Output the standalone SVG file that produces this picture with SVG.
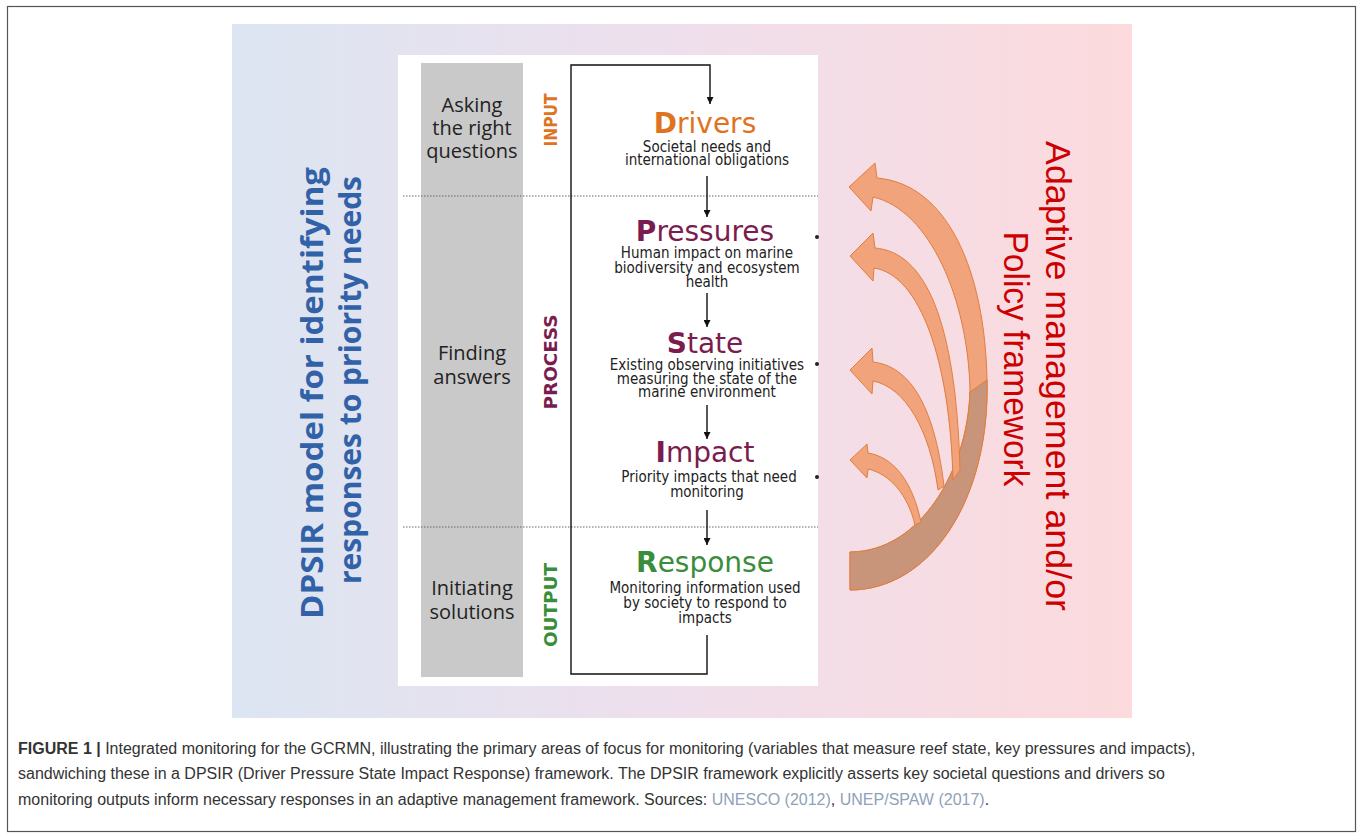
<svg xmlns="http://www.w3.org/2000/svg" width="1360" height="837" viewBox="0 0 1360 837">
  <defs>
    <linearGradient id="bgGrad" x1="0" y1="0" x2="1" y2="0">
      <stop offset="0" stop-color="#dce5f2"/>
      <stop offset="0.5" stop-color="#efdfec"/>
      <stop offset="1" stop-color="#fcdadd"/>
    </linearGradient>
    <marker id="tri" viewBox="0 0 10 10" refX="10" refY="5" markerWidth="7" markerHeight="7" markerUnits="userSpaceOnUse" orient="auto">
      <path d="M0,0 L10,5 L0,10 Z" fill="#111"/>
    </marker>
    <style>
      .side { font-family: "Open Sans", "Noto Sans", sans-serif; font-size: 20px; fill: #222; text-anchor: middle; }
      .phase { font-family: "DejaVu Sans", sans-serif; font-weight: bold; font-size: 17px; text-anchor: middle; }
      .title { font-family: "DejaVu Sans", sans-serif; font-size: 28px; text-anchor: middle; }
      .title .init { font-weight: bold; }
      .desc { font-family: "DejaVu Sans Condensed", "DejaVu Sans", sans-serif; font-stretch: condensed; font-size: 15px; fill: #222; text-anchor: middle; }
      .flow { stroke: #111; stroke-width: 1.4; fill: none; }
      .divider { stroke: #666; stroke-width: 1; stroke-dasharray: 1.5 1.5; }
      .fb { fill: #f1a37b; stroke: #e27d3d; stroke-width: 1; }
      .fbBase { fill: #c9957a; stroke: #e27d3d; stroke-width: 1; }
      .caption { font-family: "Liberation Sans", Arial, sans-serif; font-size: 16px; fill: #333; }
      .cite { fill: #8ea2b8; }
    </style>
  </defs>

  <!-- page frame -->
  <rect x="7.5" y="6.5" width="1348" height="825" fill="#ffffff" stroke="#555" stroke-width="1.2"/>

  <!-- gradient backdrop -->
  <rect x="232" y="24" width="900" height="694" fill="url(#bgGrad)"/>

  <!-- left heading -->
  <g id="heading-left" font-family="Open Sans, Noto Sans, sans-serif" font-weight="bold" font-size="31" fill="#3162a8" text-anchor="middle">
    <text transform="translate(323,393) rotate(-90)" textLength="452" lengthAdjust="spacingAndGlyphs">DPSIR model for identifying</text>
    <text transform="translate(361,380) rotate(-90)" textLength="408" lengthAdjust="spacingAndGlyphs">responses to priority needs</text>
  </g>

  <!-- white panel -->
  <rect x="398" y="55" width="420" height="631" fill="#ffffff"/>

  <!-- grey side column -->
  <g id="stages">
    <rect x="421" y="63" width="102" height="614" fill="#c9c9c9"/>
    <text class="side" x="472" y="112">Asking</text>
    <text class="side" x="472" y="135">the right</text>
    <text class="side" x="472" y="158">questions</text>
    <text class="side" x="472" y="360">Finding</text>
    <text class="side" x="472" y="384">answers</text>
    <text class="side" x="472" y="595">Initiating</text>
    <text class="side" x="472" y="619">solutions</text>
  </g>

  <!-- phase labels -->
  <g id="phases">
    <text class="phase" fill="#e0731f" transform="translate(557,120) rotate(-90)" textLength="53" lengthAdjust="spacingAndGlyphs">INPUT</text>
    <text class="phase" fill="#7b1c4f" transform="translate(557,362) rotate(-90)" textLength="95" lengthAdjust="spacingAndGlyphs">PROCESS</text>
    <text class="phase" fill="#3a8d3a" transform="translate(557,605) rotate(-90)" textLength="84" lengthAdjust="spacingAndGlyphs">OUTPUT</text>
  </g>

  <!-- section dividers -->
  <line class="divider" x1="403" y1="196" x2="818" y2="196"/>
  <line class="divider" x1="403" y1="527" x2="818" y2="527"/>

  <!-- DPSIR nodes -->
  <g id="drivers">
    <text class="title" x="705" y="133" font-size="27" fill="#e0731f"><tspan class="init">D</tspan>rivers</text>
    <text class="desc" x="707" y="152" font-size="14.5">Societal needs and</text>
    <text class="desc" x="707" y="165" font-size="14.5">international obligations</text>
  </g>
  <g id="pressures">
    <text class="title" x="705" y="241" fill="#7b1c4f"><tspan class="init">P</tspan>ressures</text>
    <text class="desc" x="707" y="258">Human impact on marine</text>
    <text class="desc" x="707" y="273">biodiversity and ecosystem</text>
    <text class="desc" x="707" y="287">health</text>
  </g>
  <g id="state">
    <text class="title" x="705" y="353" fill="#7b1c4f"><tspan class="init">S</tspan>tate</text>
    <text class="desc" x="707" y="370">Existing observing initiatives</text>
    <text class="desc" x="707" y="384">measuring the state of the</text>
    <text class="desc" x="707" y="397">marine environment</text>
  </g>
  <g id="impact">
    <text class="title" x="705" y="462" fill="#7b1c4f"><tspan class="init">I</tspan>mpact</text>
    <text class="desc" x="709" y="482">Priority impacts that need</text>
    <text class="desc" x="707" y="497">monitoring</text>
  </g>
  <g id="response">
    <text class="title" x="705" y="572" fill="#3a8d3a"><tspan class="init">R</tspan>esponse</text>
    <text class="desc" x="705" y="593">Monitoring information used</text>
    <text class="desc" x="705" y="608">by society to respond to</text>
    <text class="desc" x="705" y="623">impacts</text>
  </g>

  <!-- bullet marks at panel edge -->
  <g id="bullets" fill="#222">
    <circle cx="817" cy="237" r="2"/>
    <circle cx="817" cy="364" r="2"/>
    <circle cx="817" cy="477" r="2"/>
  </g>

  <!-- flow connectors -->
  <g id="connectors">
    <path class="flow" d="M707,635 V674 H571 V65 H710 V104" marker-end="url(#tri)"/>
    <line class="flow" x1="707" y1="176" x2="707" y2="217" marker-end="url(#tri)"/>
    <line class="flow" x1="707" y1="293" x2="707" y2="327" marker-end="url(#tri)"/>
    <line class="flow" x1="707" y1="405" x2="707" y2="439" marker-end="url(#tri)"/>
    <line class="flow" x1="707" y1="510" x2="707" y2="545" marker-end="url(#tri)"/>
  </g>

  <!-- feedback arrows -->
  <g id="feedback">
    <path class="fb" d="M850,590 C930,590 990,500 987,380 C985,272 948,184 877,178 L875,163 L849,187 L871,211 L873,197 C930,210 968,300 970,390 C968,470 920,552 850,552 Z"/>
    <path class="fbBase" d="M850,590 C930,590 990,500 987,380 L970,392 C968,470 920,552 850,552 Z"/>
    <path class="fb" d="M850,256 L873,233 L875,248 C925,252 956,320 960,470 L953,480 C950,360 920,275 874,268 L873,281 Z"/>
    <path class="fb" d="M850,370 L872,348 L873,362 C908,366 934,402 944,486 L938,490 C930,430 905,387 873,381 L872,394 Z"/>
    <path class="fb" d="M850,460 L867,444 L868,453 C893,457 912,480 921,522 L915,525 C908,495 890,474 868,469 L867,478 Z"/>
  </g>

  <!-- right heading -->
  <g id="heading-right" font-family="Liberation Sans, Arial, sans-serif" font-size="35" fill="#cc0000" text-anchor="middle">
    <text transform="translate(1046,376) rotate(90)" textLength="470" lengthAdjust="spacingAndGlyphs">Adaptive management and/or</text>
    <text transform="translate(1004,359) rotate(90)" textLength="255" lengthAdjust="spacingAndGlyphs">Policy framework</text>
  </g>

  <!-- caption -->
  <g id="caption">
    <text class="caption" x="18" y="754"><tspan font-weight="bold">FIGURE 1 |</tspan> Integrated monitoring for the GCRMN, illustrating the primary areas of focus for monitoring (variables that measure reef state, key pressures and impacts),</text>
    <text class="caption" x="18" y="779">sandwiching these in a DPSIR (Driver Pressure State Impact Response) framework. The DPSIR framework explicitly asserts key societal questions and drivers so</text>
    <text class="caption" x="18" y="805">monitoring outputs inform necessary responses in an adaptive management framework. Sources: <tspan class="cite">UNESCO (2012)</tspan>, <tspan class="cite">UNEP/SPAW (2017)</tspan>.</text>
  </g>
</svg>
